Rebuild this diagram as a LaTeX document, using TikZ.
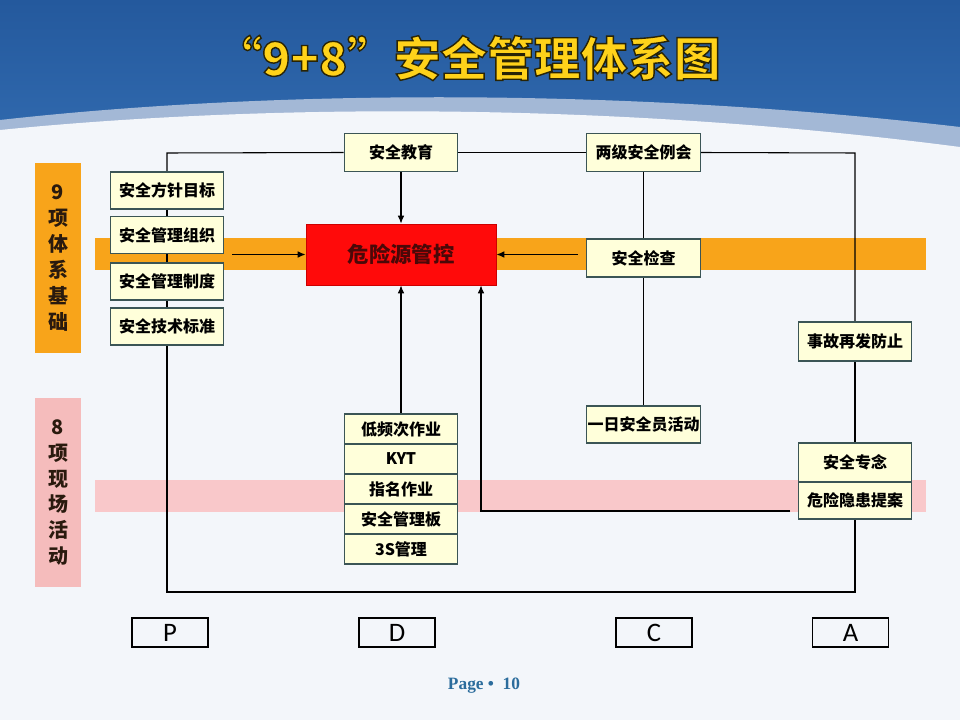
\documentclass[tikz,border=0pt]{standalone}
\usepackage{fontspec}
\newfontfamily\cjk{Noto Sans CJK SC}
\newfontfamily\titlefont[FakeBold=3]{Noto Sans CJK SC}
\newfontfamily\pdcafont{Carlito}
\newfontfamily\pagefont{Liberation Serif}
\usetikzlibrary{arrows.meta,calc}
\definecolor{bluetop}{HTML}{24599D}
\definecolor{bluebot}{HTML}{336DB2}
\definecolor{swoosh}{HTML}{A3B8D6}
\definecolor{pagebg}{HTML}{F3F6FA}
\definecolor{boxfill}{HTML}{FFFFDA}
\definecolor{boxline}{HTML}{3B5555}
\definecolor{orangeband}{HTML}{F8A41A}
\definecolor{pinkband}{HTML}{F9C8CA}
\definecolor{pinklabel}{HTML}{F5BCBC}
\definecolor{titleyellow}{HTML}{FFD21A}
\definecolor{labeltext}{HTML}{2A1A0E}
\definecolor{redbox}{HTML}{FF0A0A}
\definecolor{redtext}{HTML}{4A0808}
\definecolor{pageblue}{HTML}{2B6C9C}
\pgfdeclarelayer{bgl}
\pgfdeclarelayer{bandl}
\pgfdeclarelayer{linel}
\pgfsetlayers{bgl,bandl,linel,main}
\tikzset{
  box/.style={draw=boxline, fill=boxfill, line width=0.9pt, inner sep=0pt,
    minimum width=85pt, minimum height=28.5pt,
    font=\cjk\bfseries\fontsize{12}{14}\selectfont, text=black},
  rowbox/.style={box, minimum height=22.5pt},
  conn/.style={line width=0.8pt, draw=black},
  arr/.style={conn, -{Latex[length=6pt,width=5pt]}},
  sidelabel/.style={inner sep=0pt, minimum width=34.5pt, align=center,
    font=\cjk\bfseries\fontsize{15}{19.4}\selectfont, text=labeltext},
  pdca/.style={draw=black, line width=0.9pt, inner sep=0pt,
    minimum width=57pt, minimum height=21.75pt,
    font=\pdcafont\fontsize{20}{22}\selectfont}
}
\begin{document}
\begin{tikzpicture}[x=0.75pt,y=-0.75pt]
\useasboundingbox (0,0) rectangle (960,720);
% ---------- background ----------
\begin{pgfonlayer}{bgl}
  \shade[top color=bluetop, bottom color=bluebot] (0,0) rectangle (960,170);
  \fill[swoosh] (0,120) .. controls (250,92) and (600,85) .. (960,127)
     -- (960,720) -- (0,720) -- cycle;
  \fill[pagebg] (0,130) .. controls (250,105) and (600,100) .. (960,147)
     -- (960,720) -- (0,720) -- cycle;
\end{pgfonlayer}
\begin{pgfonlayer}{bandl}
  \fill[orangeband] (95,238) rectangle (926,270);
  \fill[pinkband] (95,480) rectangle (926,512);
\end{pgfonlayer}
% ---------- title ----------
\node[text=titleyellow, inner sep=0pt] (title) at (468,58)
  {\special{pdf:code 0.16 0.14 0.02 RG}\titlefont\bfseries\fontsize{35}{40}\selectfont “9+8”安全管理体系图};
% ---------- side labels ----------
\node[sidelabel, fill=orangeband, minimum height=142.5pt] (nine) at (58,258)
  {9\\项\\体\\系\\基\\础};
\node[sidelabel, fill=pinklabel, minimum height=141.75pt] (eight) at (58,492.5)
  {8\\项\\现\\场\\活\\动};
% ---------- left column ----------
\node[box, minimum height=27.75pt] (l1) at (167,190.5) {安全方针目标};
\node[box, minimum height=27.75pt] (l2) at (167,235) {安全管理组织};
\node[box, minimum height=27.75pt] (l3) at (167,281.5) {安全管理制度};
\node[box, minimum height=27.75pt] (l4) at (167,326.5) {安全技术标准};
% ---------- top ----------
\node[box] (edu) at (401,152.5) {安全教育};
\node[box] (lj) at (643.5,152.5) {两级安全例会};
% ---------- centre ----------
\node[draw=red!80!black, fill=redbox, line width=0.6pt, minimum width=142.5pt,
  minimum height=45.75pt, inner sep=0pt, text=redtext,
  font=\cjk\bfseries\fontsize{16}{18}\selectfont] (red) at (401,254.5) {危险源管控};
\node[box] (chk) at (643.5,258) {安全检查};
\node[box, minimum height=27.75pt] (day) at (643.5,424.5) {一日安全员活动};
% ---------- centre stack ----------
\node[rowbox] (s1) at (401,429) {低频次作业};
\node[rowbox] (s2) at (401,459) {KYT};
\node[rowbox] (s3) at (401,489) {指名作业};
\node[rowbox] (s4) at (401,519) {安全管理板};
\node[rowbox] (s5) at (401,549) {3S管理};
% ---------- right column ----------
\node[box, minimum height=29.25pt] (acc) at (855,341.5) {事故再发防止};
\node[box, minimum height=29.25pt] (zn) at (855,462.5) {安全专念};
\node[box, minimum height=27.75pt] (ya) at (855,500.5) {危险隐患提案};
% ---------- PDCA ----------
\node[pdca] (P) at (170,632.5) {P};
\node[pdca] (D) at (397,632.5) {D};
\node[pdca] (C) at (654,632.5) {C};
\node[pdca] (A) at (850.5,632.5) {A};
% ---------- page ----------
\node[text=pageblue, font=\pagefont\bfseries\fontsize{13}{15}\selectfont, inner sep=0pt]
  (pg) at (484,686) {Page\ \textbullet\ \ 10};
% ---------- connectors ----------
\coordinate (tl) at (167,153);
\coordinate (tr) at (855,153);
\coordinate (bl) at (167,592);
\coordinate (br) at (855,592);
\coordinate (lefts) at (232,254.5);
\coordinate (rights) at (578,254.5);
\coordinate (hz) at (790,511);
\coordinate (cor) at (481,511);
\begin{pgfonlayer}{linel}
  \draw[conn] (l1.north) -- (tl) -- (edu.west);
  \draw[conn] (edu.east) -- (lj.west);
  \draw[conn] (lj.east) -- (tr) -- (acc.north);
  \draw[conn] (l1.south) -- (l2.north);
  \draw[conn] (l2.south) -- (l3.north);
  \draw[conn] (l3.south) -- (l4.north);
  \draw[conn] (l4.south) -- (bl) -- (br) -- (ya.south);
  \draw[conn] (acc.south) -- (zn.north);
  \draw[conn] (lj.south) -- (chk.north);
  \draw[conn] (chk.south) -- (day.north);
  \draw[arr] (edu.south) -- (edu.south |- red.north);
  \draw[arr] (s1.north) -- (s1.north |- red.south);
  \draw[arr] (lefts) -- (red.west);
  \draw[arr] (rights) -- (red.east);
  \draw[arr] (hz) -- (cor) -- (cor |- red.south);
\end{pgfonlayer}
\end{tikzpicture}
\end{document}
